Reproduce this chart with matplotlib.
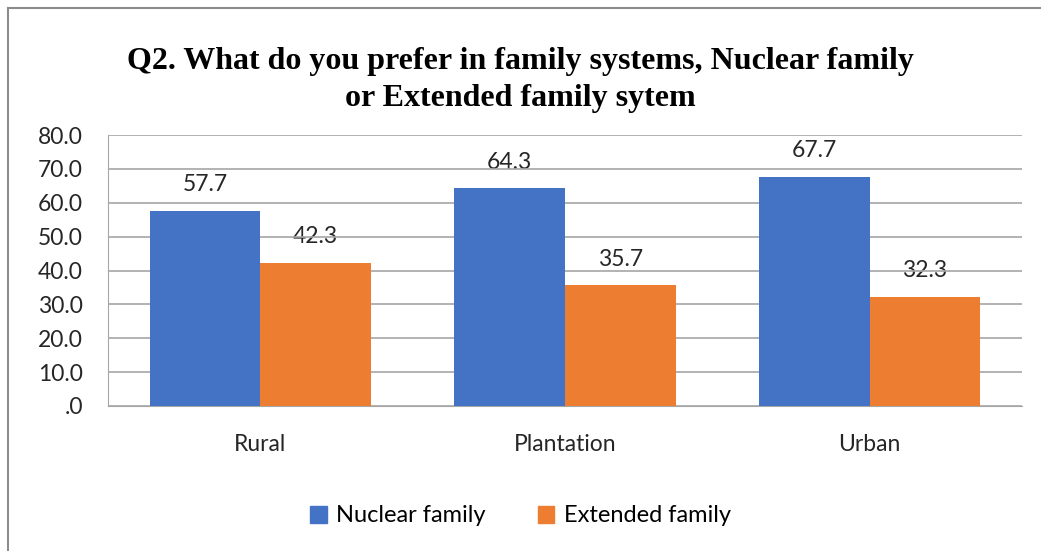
import matplotlib.pyplot as plt
from matplotlib.patches import Patch
from matplotlib.lines import Line2D
import numpy as np

categories = ["Rural", "Plantation", "Urban"]
nuclear = [57.7, 64.3, 67.7]
extended = [42.3, 35.7, 32.3]
series_names = ["Nuclear family", "Extended family"]
colors = ["#4472C4", "#ED7D31"]

plt.rcParams['font.family'] = ['Lato', 'DejaVu Sans']

fig = plt.figure(figsize=(10.41, 5.51), dpi=100)
ax = fig.add_axes([108 / 1041, 1 - 406 / 551, (1022 - 108) / 1041, (406 - 135) / 551])

x = np.arange(len(categories))
w = 0.363
b1 = ax.bar(x - w / 2, nuclear, w, color=colors[0], zorder=3)
b2 = ax.bar(x + w / 2, extended, w, color=colors[1], zorder=3)

for bars, vals in ((b1, nuclear), (b2, extended)):
    for bar, v in zip(bars, vals):
        ax.text(bar.get_x() + bar.get_width() / 2, v + 7.6, f"{v:.1f}",
                ha='center', va='center', fontsize=16.5, color='#262626', zorder=1)

ax.set_xlim(-0.5, 2.5)
ax.set_ylim(0, 80)
ax.set_yticks(np.arange(0, 81, 10))
ax.set_yticklabels([".0"] + [f"{v:.1f}" for v in range(10, 81, 10)], fontsize=16.5)
ax.set_xticks(x)
ax.set_xticklabels(categories, fontsize=16.5)
ax.tick_params(axis='both', length=0, colors='#262626')
ax.tick_params(axis='x', pad=20)
ax.tick_params(axis='y', pad=18)
ax.grid(axis='y', color='#a6a6a6', linewidth=1.2, zorder=0)
for s in ('top', 'right'):
    ax.spines[s].set_visible(False)
ax.spines['left'].set_color('#a6a6a6')
ax.spines['bottom'].set_color('#a6a6a6')

fig.text(0.5, 1 - 80 / 551, "Q2. What do you prefer in family systems, Nuclear family\nor Extended family sytem",
         ha='center', va='center', fontsize=23, fontweight='bold',
         family='Liberation Serif', linespacing=1.4)

handles = [Patch(color=c) for c in colors]
fig.legend(handles, series_names, loc='center', bbox_to_anchor=(0.5, 1 - 516 / 551),
           ncol=2, frameon=False, fontsize=17, handlelength=0.7, handleheight=0.7,
           columnspacing=2.2, handletextpad=0.4)

# outer chart border (left and top visible)
fig.add_artist(Line2D([8 / 1041, 8 / 1041], [0, 1 - 8 / 551], color='#8c8c8c', lw=1.5,
                      transform=fig.transFigure))
fig.add_artist(Line2D([8 / 1041, 1], [1 - 8 / 551, 1 - 8 / 551], color='#8c8c8c', lw=1.5,
                      transform=fig.transFigure))

fig.savefig("out.png", dpi=100)
